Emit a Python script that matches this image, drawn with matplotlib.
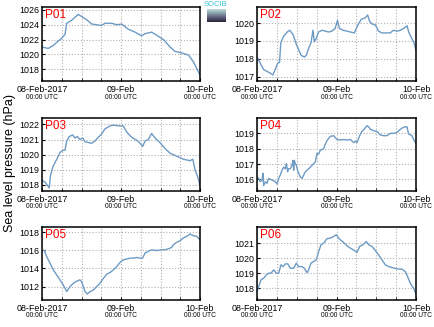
import matplotlib
matplotlib.use('Agg')
import matplotlib.pyplot as plt
import numpy as np

plt.rcParams['font.family'] = ['Liberation Sans', 'DejaVu Sans']

# hours since 08-Feb-2017 00:00 UTC, pressure in hPa
h01 = [0, 1.9, 3.4, 6.0, 7.0, 7.5, 9.0, 10.0, 11.0, 12.1, 13.8, 15.1, 16.6, 18.1, 19.1, 21.2,
       22.7, 24.2, 26.2, 28.3, 30.3, 31.3, 33.3, 34.8, 36.9, 38.9, 40.4, 42.4, 44.5, 46.0, 48]
p01 = [1021.0, 1020.8, 1021.2, 1022.2, 1022.7, 1024.2, 1024.6, 1025.0, 1025.4, 1025.1, 1024.6,
       1024.1, 1024.0, 1023.9, 1024.2, 1024.2, 1024.0, 1024.1, 1023.4, 1023.0, 1022.5, 1022.8,
       1023.0, 1022.6, 1022.0, 1021.0, 1020.4, 1020.2, 1019.9, 1019.0, 1017.2]

h02 = [0, 1.0, 2.0, 3.0, 4.0, 4.8, 5.5, 6.2, 6.8, 7.2, 8.0, 9.1, 9.9, 10.9, 11.9, 12.6, 13.3,
       14.3, 14.9, 15.6, 16.3, 16.9, 17.3, 17.9, 18.6, 19.6, 20.6, 21.6, 22.6, 23.6, 24.3, 24.9,
       26.0, 27.2, 28.2, 29.4, 30.2, 31.4, 32.7, 33.4, 34.0, 34.7, 35.7, 36.7, 37.7, 39.2, 40.2,
       41.2, 42.3, 43.3, 44.3, 45.3, 45.8, 46.8, 47.3, 48]
p02 = [1018.1, 1017.75, 1017.4, 1017.3, 1017.2, 1017.1, 1017.4, 1017.75, 1017.8, 1018.9,
       1019.25, 1019.5, 1019.6, 1019.35, 1018.8, 1018.5, 1018.2, 1018.1, 1018.2, 1018.6, 1018.9,
       1019.6, 1018.95, 1019.15, 1019.5, 1019.6, 1019.55, 1019.5, 1019.55, 1019.7, 1020.15,
       1019.7, 1019.6, 1019.55, 1019.5, 1019.45, 1019.8, 1020.2, 1020.3, 1020.45, 1020.1,
       1019.95, 1019.9, 1019.55, 1019.45, 1019.45, 1019.45, 1019.6, 1019.55, 1019.6, 1019.7,
       1019.85, 1019.5, 1019.1, 1018.95, 1018.5]

h03 = [0, 0.9, 2.2, 2.6, 3.4, 4.5, 5.5, 6.5, 7.0, 7.5, 8.3, 9.3, 10.0, 10.7, 11.5, 12.4, 13.1,
       14.1, 15.1, 16.1, 17.1, 18.1, 19.1, 20.7, 21.7, 23.2, 24.7, 25.7, 27.2, 28.8, 29.8, 30.6,
       31.3, 32.3, 33.3, 34.0, 34.8, 35.8, 37.4, 38.9, 39.9, 41.4, 42.9, 45.0, 45.8, 46.5, 47.5, 48]
p03 = [1018.3, 1018.2, 1017.8, 1018.65, 1019.25, 1019.7, 1020.15, 1020.3, 1020.3, 1020.9,
       1021.2, 1021.3, 1021.1, 1021.2, 1021.0, 1021.1, 1020.85, 1020.8, 1020.75, 1020.9,
       1021.15, 1021.35, 1021.7, 1021.9, 1021.95, 1021.9, 1021.9, 1021.5, 1021.15, 1020.95,
       1020.75, 1020.55, 1020.9, 1021.0, 1021.4, 1021.2, 1021.0, 1020.8, 1020.4, 1020.1,
       1020.0, 1019.85, 1019.7, 1019.6, 1019.7, 1019.0, 1018.4, 1017.95]

x04 = [120, 125, 130, 135, 138, 140, 145, 150, 155, 165, 175, 180, 185, 190, 195, 200, 205,
       208, 212, 215, 220, 225, 228, 230, 232, 235, 238, 243, 250, 255, 260, 265, 270, 280,
       290, 295, 300, 305, 310, 320, 325, 330, 340, 350, 360, 370, 380, 390, 400, 410, 415,
       420, 428, 435, 442, 450, 455, 460, 470, 480, 490, 500, 510, 520, 530, 540, 545, 555,
       565, 570, 575, 585, 590, 597]
h04 = [round((x - 120) / 9.94, 2) for x in x04]
p04 = [1016.17, 1016.07, 1015.85, 1015.96, 1016.4, 1015.6, 1015.85, 1015.75, 1016.07, 1015.96,
       1015.85, 1015.7, 1016.07, 1016.3, 1016.6, 1016.8, 1016.7, 1017.03, 1016.5, 1016.7,
       1016.7, 1016.92, 1017.24, 1016.6, 1017.24, 1017.03, 1016.92, 1016.5, 1016.17, 1016.07,
       1016.28, 1016.5, 1016.6, 1016.8, 1017.03, 1017.14, 1017.7, 1017.65, 1017.9, 1018.0,
       1018.3, 1018.53, 1018.8, 1018.85, 1018.6, 1018.57, 1018.6, 1018.57, 1018.6, 1018.4,
       1018.5, 1018.4, 1018.85, 1019.13, 1019.28, 1019.5, 1019.43, 1019.28, 1019.17, 1019.13,
       1018.9, 1018.85, 1018.85, 1019.0, 1019.0, 1019.06, 1019.17, 1019.34, 1019.43, 1019.43,
       1018.96, 1018.85, 1018.6, 1018.36]

x05 = [126, 133, 140, 150, 160, 170, 180, 190, 200, 210, 220, 230, 240, 245, 250, 255, 262,
       270, 280, 290, 300, 310, 320, 330, 340, 350, 360, 370, 380, 390, 400, 410, 420, 428,
       435, 445, 455, 465, 475, 485, 495, 505, 515, 520, 530, 540, 550, 560, 570, 580, 590, 600]
h05 = [round((x - 126) / 9.875, 2) for x in x05]
p05 = [1016.05, 1015.94, 1015.3, 1014.58, 1013.84, 1013.29, 1012.74, 1012.18, 1011.45, 1012.0,
       1012.37, 1012.6, 1012.74, 1012.55, 1012.0, 1011.45, 1011.2, 1011.45, 1011.63, 1012.0,
       1012.37, 1012.9, 1013.36, 1013.55, 1013.84, 1014.2, 1014.65, 1014.95, 1015.03, 1015.13,
       1015.13, 1015.2, 1015.13, 1015.13, 1015.68, 1015.87, 1016.05, 1015.98, 1015.98, 1016.05,
       1016.05, 1016.16, 1016.3, 1016.6, 1016.86, 1017.04, 1017.34, 1017.52, 1017.78, 1017.6,
       1017.52, 1017.15]

x06 = [120, 125, 132, 140, 148, 155, 162, 170, 178, 185, 192, 198, 205, 212, 220, 230, 238,
       245, 255, 262, 270, 275, 282, 290, 298, 305, 312, 320, 330, 340, 350, 358, 365, 372,
       380, 390, 400, 412, 420, 428, 438, 448, 455, 465, 475, 485, 495, 505, 515, 525, 540,
       555, 565, 572, 580, 590, 597]
h06 = [round((x - 120) / 9.94, 2) for x in x06]
p06 = [1017.78, 1018.11, 1018.56, 1018.67, 1018.89, 1019.0, 1019.0, 1019.22, 1019.0, 1019.0,
       1019.56, 1019.44, 1019.62, 1019.62, 1019.33, 1019.33, 1019.67, 1019.44, 1019.44, 1019.33,
       1019.04, 1019.22, 1019.67, 1019.78, 1019.89, 1020.44, 1020.89, 1021.0, 1021.29, 1021.33,
       1021.44, 1021.56, 1021.33, 1021.18, 1021.04, 1020.82, 1020.67, 1020.51, 1020.38, 1020.78,
       1020.89, 1021.11, 1020.89, 1020.78, 1020.51, 1020.22, 1019.89, 1019.56, 1019.44, 1019.38,
       1019.29, 1019.27, 1019.11, 1018.78, 1018.33, 1018.0, 1017.62]

names = ['P01', 'P02', 'P03', 'P04', 'P05', 'P06']
series = [(h01, p01), (h02, p02), (h03, p03), (h04, p04), (h05, p05), (h06, p06)]
ylims = [(1016.4, 1026.4), (1016.76, 1020.9), (1017.6, 1022.42),
         (1015.25, 1020.0), (1010.53, 1018.55), (1017.22, 1022.07)]
yticks = [np.arange(1018, 1027, 2), np.arange(1017, 1021), np.arange(1018, 1023),
          np.arange(1016, 1020), np.arange(1012, 1019, 2), np.arange(1018, 1022)]
date_labels = ['08-Feb-2017', '09-Feb', '10-Feb']

W, H = 434, 327
fig = plt.figure(figsize=(W / 100, H / 100), dpi=100)

# pixel boxes: left, top, right, bottom
cols = [(42, 200), (257, 416)]
rows = [(7, 81), (118, 191), (227, 300)]

line_color = '#6d9bc4'

for i, (name, (hh, pp)) in enumerate(zip(names, series)):
    r, c = divmod(i, 2)
    l, rgt = cols[c]
    t, b = rows[r]
    ax = fig.add_axes([l / W, 1 - b / H, (rgt - l) / W, (b - t) / H])
    ax.plot(hh, pp, color=line_color, lw=1.0)
    ax.set_xlim(0, 48)
    ax.set_ylim(*ylims[i])
    ax.set_xticks([0, 24, 48])
    ax.set_xticklabels(date_labels, fontsize=6.4)
    ax.set_xticks(np.arange(6, 48, 6), minor=True)
    ax.set_yticks(yticks[i])
    ax.tick_params(axis='y', labelsize=6.4, direction='in', length=2, pad=2)
    ax.tick_params(axis='x', which='both', direction='in', length=2, pad=3)
    ax.grid(True, which='both', linestyle=':', color='#b0b0b0', lw=0.8)
    for sp in ax.spines.values():
        sp.set_linewidth(1.1)
    for xv in [0, 24, 48]:
        ax.text(xv, -0.17, '00:00 UTC', transform=ax.get_xaxis_transform(),
                ha='center', va='top', fontsize=4.8)
    ax.text(0.02, 0.97, name, transform=ax.transAxes, color='red',
            fontsize=8.5, ha='left', va='top')

fig.text(10 / W, 0.5, 'Sea level pressure (hPa)', rotation=90,
         ha='center', va='center', fontsize=9)

# small logo
lax = fig.add_axes([207 / W, 1 - 22 / H, 19 / W, 13 / H])
lax.imshow(np.linspace(0, 1, 20).reshape(-1, 1), cmap='bone_r', aspect='auto',
           vmin=-0.3, vmax=1.3)
lax.axis('off')
fig.text(216 / W, 1 - 5 / H, 'SOCIB', color='#3cc3d8', fontsize=5.5,
         ha='center', va='center')

fig.savefig('out.png', dpi=100)
